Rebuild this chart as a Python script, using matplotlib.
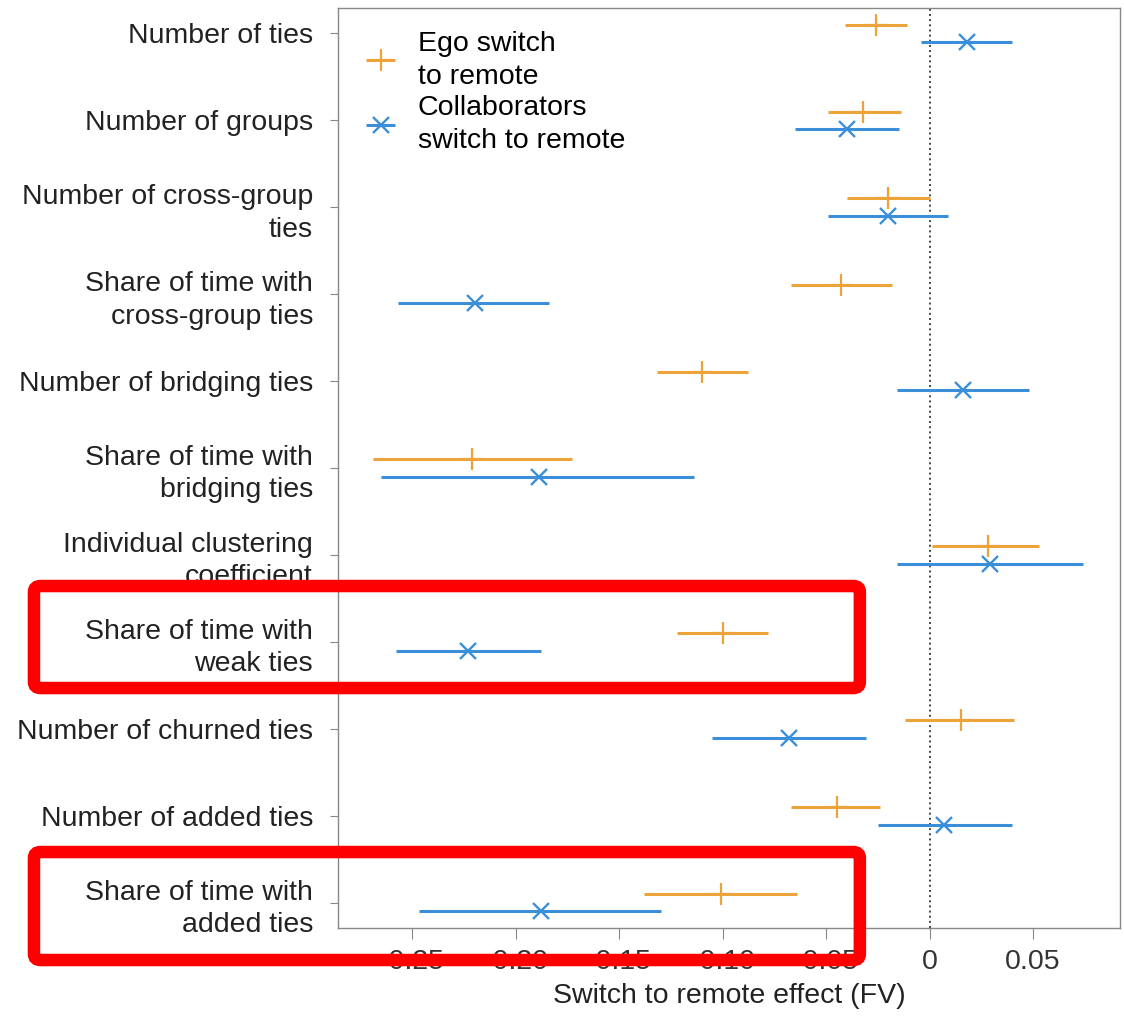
import matplotlib.pyplot as plt
import matplotlib.patches as patches
import numpy as np

plt.rcParams['font.family'] = ['Liberation Sans', 'DejaVu Sans']

# Outcome measures (top to bottom)
labels = [
    "Number of ties",
    "Number of groups",
    "Number of cross-group\nties",
    "Share of time with\ncross-group ties",
    "Number of bridging ties",
    "Share of time with\nbridging ties",
    "Individual clustering\ncoefficient",
    "Share of time with\nweak ties",
    "Number of churned ties",
    "Number of added ties",
    "Share of time with\nadded ties",
]

# Ego switch to remote: estimate, lower, upper
ego_est = [-0.026, -0.032, -0.020, -0.043, -0.110, -0.221, 0.028, -0.100, 0.015, -0.045, -0.101]
ego_lo = [-0.041, -0.049, -0.040, -0.067, -0.132, -0.269, 0.001, -0.122, -0.012, -0.067, -0.138]
ego_hi = [-0.011, -0.014, 0.000, -0.018, -0.088, -0.173, 0.053, -0.078, 0.041, -0.024, -0.064]

# Collaborators switch to remote: estimate, lower, upper
col_est = [0.018, -0.040, -0.020, -0.220, 0.016, -0.189, 0.029, -0.223, -0.068, 0.007, -0.188]
col_lo = [-0.004, -0.065, -0.049, -0.257, -0.016, -0.265, -0.016, -0.258, -0.105, -0.025, -0.247]
col_hi = [0.040, -0.015, 0.009, -0.184, 0.048, -0.114, 0.074, -0.188, -0.031, 0.040, -0.130]

xticks = [-0.25, -0.20, -0.15, -0.10, -0.05, 0, 0.05]
xticklabels = ["-0.25", "-0.20", "-0.15", "-0.10", "-0.05", "0", "0.05"]

orange = '#EBA33A'
blue = '#3A8FD8'
fs = 20.5

y = np.arange(len(labels))
ego_est = np.array(ego_est)
col_est = np.array(col_est)
ego_err = [ego_est - np.array(ego_lo), np.array(ego_hi) - ego_est]
col_err = [col_est - np.array(col_lo), np.array(col_hi) - col_est]

fig = plt.figure(figsize=(11.24, 10.16), dpi=100)
ax = fig.add_axes([0.3007, 0.0866, 0.6957, 0.9055])

ax.axvline(0, color='#444444', ls=':', lw=1.4, zorder=1)

ax.errorbar(ego_est, y - 0.1, xerr=ego_err, fmt='+', color=orange, ecolor=orange,
            elinewidth=2.2, ms=16, mew=1.6, capsize=0, label="Ego switch\nto remote", zorder=3)
ax.errorbar(col_est, y + 0.1, xerr=col_err, fmt='x', color=blue, ecolor=blue,
            elinewidth=2.2, ms=12, mew=1.7, capsize=0, label="Collaborators\nswitch to remote", zorder=3)

ax.set_xlim(-0.286, 0.092)
ax.set_ylim(len(labels) - 0.71, -0.29)
ax.set_yticks(y)
ax.set_yticklabels(labels, fontsize=fs, color='#222222', linespacing=1.32)
ax.set_xticks(xticks)
ax.set_xticklabels(xticklabels, fontsize=fs, color='#333333')
ax.set_xlabel("Switch to remote effect (FV)", fontsize=fs, color='#222222', labelpad=6)
ax.tick_params(axis='x', length=8, color='#888888', pad=7)
ax.tick_params(axis='y', length=6, color='#888888', pad=12)
for s in ax.spines.values():
    s.set_color('#888888')
    s.set_linewidth(1.0)

leg = ax.legend(loc='upper left', bbox_to_anchor=(0.0, 1.0), frameon=False, fontsize=fs,
                handlelength=1.4, handletextpad=0.6, labelspacing=0.2, borderaxespad=0.4)
for t in leg.get_texts():
    t.set_linespacing(1.35)

# red highlight boxes
for (x0, y0, x1, y1) in [(0.0302, 0.3228, 0.765, 0.4232), (0.0302, 0.0551, 0.765, 0.1614)]:
    box = patches.FancyBboxPatch((x0, y0), x1 - x0, y1 - y0,
                                 boxstyle="round,pad=0,rounding_size=0.006",
                                 transform=fig.transFigure, fill=False,
                                 edgecolor='#FF0000', lw=9, zorder=10)
    fig.patches.append(box)

fig.savefig('out.png', dpi=100)
